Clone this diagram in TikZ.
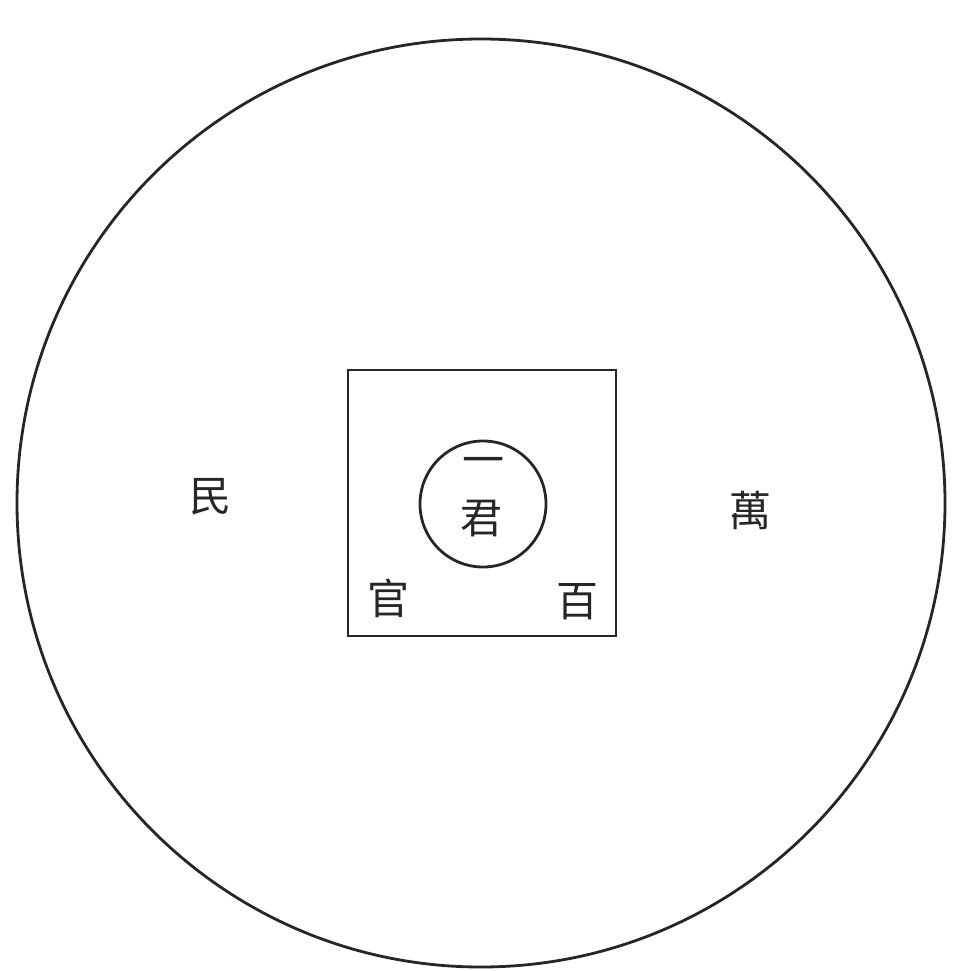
\documentclass[tikz,border=0pt]{standalone}
\usepackage{fontspec}
\newfontfamily\cjk{Noto Sans CJK TC}
\begin{document}
\begin{tikzpicture}[x=1pt,y=-1pt,
  ink/.style={draw=black!85, line width=2.8pt},
  lbl/.style={font=\cjk\fontsize{42}{42}\selectfont, text=black!85, inner sep=0pt}]
\useasboundingbox (0,0) rectangle (960,971);
\node[ink, circle, minimum size=928pt, inner sep=0pt] (outer) at (481,503) {};
\node[ink, rectangle, minimum width=268pt, minimum height=266pt, inner sep=0pt] (square) at (482,503) {};
\node[ink, circle, minimum size=126pt, inner sep=0pt] (inner) at (483,504) {};
\node[lbl] (yi) at (483,466) {一};
\node[lbl] (jun) at (481,519) {君};
\node[lbl] (guan) at (388,598) {官};
\node[lbl] (bai) at (577,602) {百};
\node[lbl] (min) at (210,497) {民};
\node[lbl] (wan) at (750,511) {萬};
\end{tikzpicture}
\end{document}
